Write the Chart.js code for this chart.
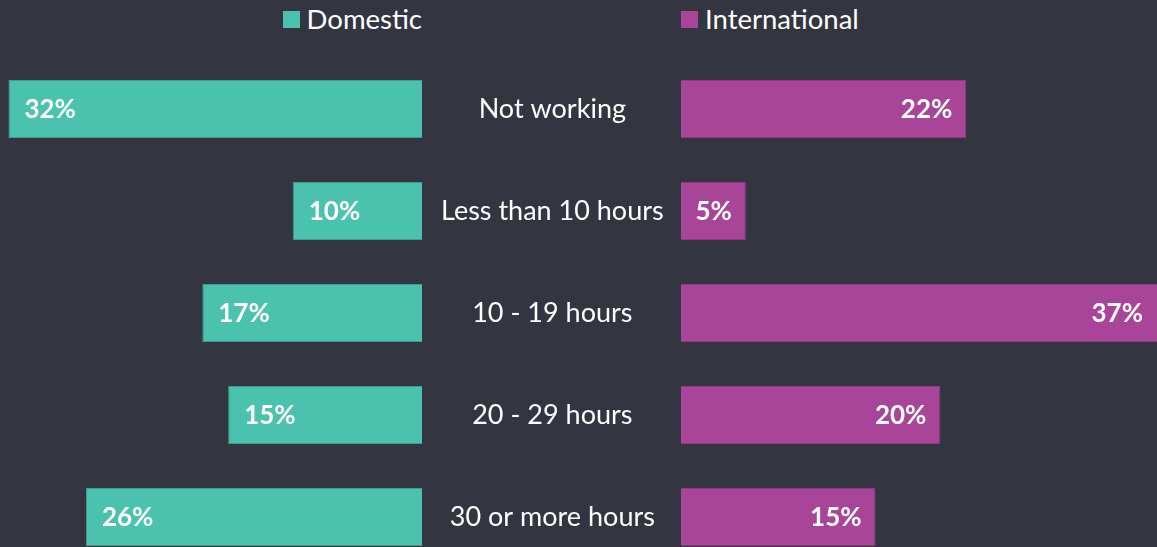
<!DOCTYPE html>
<html>
<head>
<meta charset="utf-8">
<script src="https://cdn.jsdelivr.net/npm/chart.js@4/dist/chart.umd.min.js"></script>
<style>
  html, body { margin:0; padding:0; background:#333540; overflow:hidden; }
  body { width:1157px; height:547px; position:relative; font-family: Lato, "Source Sans Pro", sans-serif; }
  #left { position:absolute; left:0; top:0; width:681px; height:568px; }
  #right { position:absolute; left:681px; top:0; width:476px; height:568px; }
  .leg { position:absolute; top:3px; color:#fff; font-size:27.5px; line-height:32px; white-space:nowrap; display:flex; align-items:center; }
  .leg .sw { display:inline-block; width:17px; height:17px; margin-right:7px; }
</style>
</head>
<body>
<div id="legDom" class="leg" style="right:735px;"><span class="sw" style="background:#4AC2AD"></span>Domestic</div>
<div id="legInt" class="leg" style="left:681px;"><span class="sw" style="background:#A84598"></span>International</div>
<div id="left"><canvas id="cL"></canvas></div>
<div id="right"><canvas id="cR"></canvas></div>
<script>
const categories = ["Not working", "Less than 10 hours", "10 - 19 hours", "20 - 29 hours", "30 or more hours"];
const domestic = [32, 10, 17, 15, 26];
const international = [22, 5, 37, 20, 15];
const seriesNames = ["Domestic", "International"];

const FONT = "Lato, 'Source Sans Pro', sans-serif";
const TEAL = "#4AC2AD";
const PURPLE = "#A84598";

const labelPlugin = {
  id: 'barLabels',
  afterDatasetsDraw(chart, args, opts) {
    const ctx = chart.ctx;
    const area = chart.chartArea;
    ctx.save();
    ctx.font = "bold 26px " + FONT;
    ctx.fillStyle = "#ffffff";
    ctx.textBaseline = "middle";
    chart.data.datasets.forEach((ds, di) => {
      const meta = chart.getDatasetMeta(di);
      meta.data.forEach((bar, i) => {
        const txt = ds.data[i] + "%";
        if (opts.side === 'left') {
          ctx.textAlign = "left";
          ctx.fillText(txt, bar.x + 16, bar.y + 1);
        } else {
          ctx.textAlign = "right";
          ctx.fillText(txt, Math.min(bar.x, area.right) - 14, bar.y + 1);
        }
      });
    });
    ctx.restore();
  }
};

Chart.defaults.font.family = FONT;
Chart.defaults.color = "#ffffff";

const common = {
  indexAxis: 'y',
  responsive: true,
  maintainAspectRatio: false,
  animation: false,
  layout: { padding: { top: 58, bottom: 0, left: 0, right: 0 } },
};

new Chart(document.getElementById('cL'), {
  type: 'bar',
  data: {
    labels: categories,
    datasets: [{
      label: seriesNames[0],
      data: domestic,
      backgroundColor: TEAL,
      borderColor: "#3E9C8D",
      borderWidth: 1,
      barPercentage: 1,
      categoryPercentage: 58/102
    }]
  },
  options: Object.assign({}, common, {
    plugins: { legend: { display: false }, tooltip: { enabled: false }, barLabels: { side: 'left' } },
    scales: {
      x: { reverse: true, min: 0, max: 32.65, display: false },
      y: {
        position: 'right',
        grid: { display: false, drawTicks: false },
        border: { display: false },
        afterFit(scale) { scale.width = 259; scale.paddingTop = 0; scale.paddingBottom = 0; },
        ticks: { crossAlign: 'center', color: '#ffffff', font: { size: 27, family: FONT }, padding: 19 }
      }
    }
  }),
  plugins: [labelPlugin]
});

new Chart(document.getElementById('cR'), {
  type: 'bar',
  data: {
    labels: categories,
    datasets: [{
      label: seriesNames[1],
      data: international,
      backgroundColor: PURPLE,
      borderColor: "#8E3A82",
      borderWidth: 1,
      barPercentage: 1,
      categoryPercentage: 58/102
    }]
  },
  options: Object.assign({}, common, {
    plugins: { legend: { display: false }, tooltip: { enabled: false }, barLabels: { side: 'right' } },
    scales: {
      x: { min: 0, max: 36.7, display: false },
      y: { display: false }
    }
  }),
  plugins: [labelPlugin]
});
</script>
</body>
</html>
